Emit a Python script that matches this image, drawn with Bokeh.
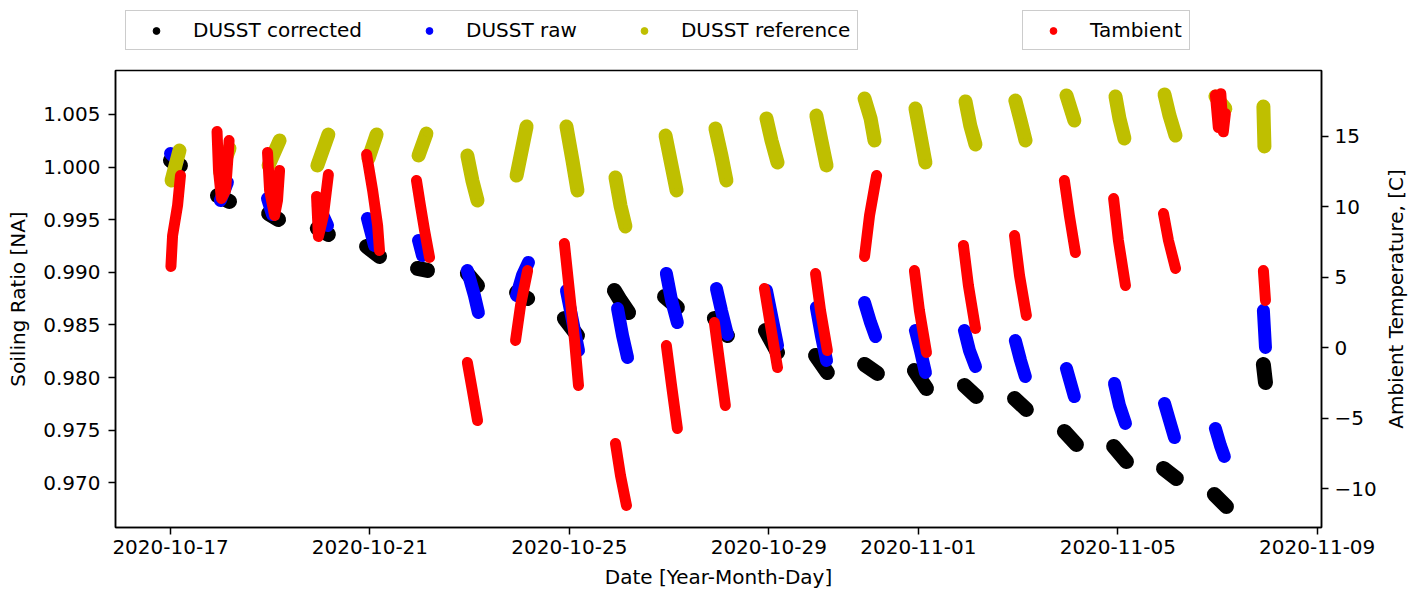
import datetime as dt
import math

from bokeh.plotting import figure
from bokeh.layouts import column, row
from bokeh.models import (Range1d, LinearAxis, FixedTicker, NumeralTickFormatter,
                          DatetimeTickFormatter, Legend, LegendItem, Label)
from bokeh.embed import file_html
from bokeh.resources import INLINE

# ---------------------------------------------------------------------------
# Daily measurement windows (each window: samples as (hour after midnight, value))
# ---------------------------------------------------------------------------
cluster_days = [
    "2020-10-17", "2020-10-18", "2020-10-19", "2020-10-20", "2020-10-21",
    "2020-10-22", "2020-10-23", "2020-10-24", "2020-10-25", "2020-10-26",
    "2020-10-27", "2020-10-28", "2020-10-29", "2020-10-30", "2020-10-31",
    "2020-11-01", "2020-11-02", "2020-11-03", "2020-11-04", "2020-11-05",
    "2020-11-06", "2020-11-07", "2020-11-08",
]

dusst_corrected = [
    [(0.0, 1.00063), (4.8, 1.00015)],
    [(-1.4, 0.99730), (4.4, 0.99673)],
    [(-0.8, 0.99559), (4.0, 0.99502)],
    [(-1.3, 0.99417), (4.0, 0.99360)],
    [(-1.6, 0.99246), (4.6, 0.99151)],
    [(-1.1, 0.99037), (3.7, 0.99018)],
    [(-1.1, 0.98989), (3.8, 0.98875)],
    [(-1.4, 0.98808), (3.9, 0.98751)],
    [(-2.4, 0.98561), (3.9, 0.98400)],
    [(-2.3, 0.98827), (0.6, 0.98732), (4.5, 0.98618)],
    [(-2.2, 0.98770), (4.0, 0.98666)],
    [(-2.2, 0.98561), (4.1, 0.98400)],
    [(-1.6, 0.98447), (4.2, 0.98238)],
    [(-1.5, 0.98210), (4.2, 0.98048)],
    [(-1.9, 0.98124), (4.3, 0.98039)],
    [(-1.9, 0.98067), (3.9, 0.97896)],
    [(-1.8, 0.97925), (3.9, 0.97820)],
    [(-1.7, 0.97801), (4.0, 0.97697)],
    [(-1.7, 0.97488), (4.1, 0.97364)],
    [(-2.0, 0.97345), (4.2, 0.97202)],
    [(-2.0, 0.97136), (4.2, 0.97041)],
    [(-1.5, 0.96889), (4.3, 0.96775)],
    [(-1.9, 0.98124), (-0.9, 0.97953)],
]

dusst_raw = [
    [(0.0, 1.00129), (3.4, 1.00063)],
    [(0.0, 0.99683), (3.4, 0.99854)],
    [(-1.3, 0.99702), (1.1, 0.99550)],
    [(-0.8, 0.99635), (3.6, 0.99445)],
    [(-1.2, 0.99512), (2.2, 0.99255)],
    [(-0.6, 0.99303), (1.3, 0.99160)],
    [(-1.1, 0.99018), (2.3, 0.98780), (4.2, 0.98618)],
    [(-1.4, 0.98780), (1.4, 0.98970), (4.3, 0.99094)],
    [(-1.4, 0.98827), (1.5, 0.98542), (4.4, 0.98257)],
    [(-0.8, 0.98656), (1.6, 0.98400), (4.0, 0.98191)],
    [(-1.3, 0.98989), (1.2, 0.98732), (4.0, 0.98523)],
    [(-1.2, 0.98846), (1.2, 0.98637), (4.1, 0.98409)],
    [(-1.1, 0.98827), (1.8, 0.98542), (4.2, 0.98305)],
    [(-1.1, 0.98666), (1.3, 0.98400), (3.8, 0.98162)],
    [(-1.9, 0.98713), (1.0, 0.98523), (3.4, 0.98390)],
    [(-1.4, 0.98447), (1.0, 0.98257), (3.4, 0.98048)],
    [(-1.8, 0.98447), (0.6, 0.98257), (3.5, 0.98105)],
    [(-1.3, 0.98352), (1.2, 0.98162), (3.5, 0.98010)],
    [(-0.7, 0.98086), (3.1, 0.97820)],
    [(-1.6, 0.97944), (0.8, 0.97735), (3.7, 0.97564)],
    [(-1.5, 0.97754), (0.9, 0.97592), (3.3, 0.97430)],
    [(-1.0, 0.97516), (1.4, 0.97354), (3.3, 0.97250)],
    [(-1.9, 0.98637), (-0.9, 0.98286)],
]

dusst_reference = [
    [(0.5, 0.99873), (4.3, 1.00158)],
    [(0.0, 0.99949), (4.4, 1.00177)],
    [(-0.8, 1.00015), (4.5, 1.00253)],
    [(-1.3, 1.00015), (4.0, 1.00310)],
    [(-0.7, 1.00082), (3.2, 1.00310)],
    [(-0.6, 1.00110), (3.2, 1.00319)],
    [(-1.1, 1.00110), (1.3, 0.99873), (3.8, 0.99683)],
    [(-1.4, 0.99920), (3.4, 1.00386)],
    [(-1.4, 1.00386), (1.5, 1.00063), (3.9, 0.99778)],
    [(-1.8, 0.99901), (0.6, 0.99635), (3.0, 0.99436)],
    [(-1.7, 1.00300), (1.2, 1.00015), (3.6, 0.99778)],
    [(-1.7, 1.00367), (1.2, 1.00110), (3.6, 0.99873)],
    [(-1.1, 1.00462), (1.3, 1.00253), (4.2, 1.00044)],
    [(-1.1, 1.00490), (1.3, 1.00253), (3.8, 1.00015)],
    [(-1.9, 1.00652), (1.0, 1.00462), (2.9, 1.00253)],
    [(-1.4, 1.00557), (1.0, 1.00300), (3.4, 1.00044)],
    [(-1.3, 1.00624), (1.0, 1.00395), (3.5, 1.00215)],
    [(-1.3, 1.00633), (1.2, 1.00443), (3.6, 1.00253)],
    [(-0.7, 1.00681), (3.1, 1.00443)],
    [(-1.1, 1.00671), (0.8, 1.00462), (3.2, 1.00272)],
    [(-1.5, 1.00690), (0.9, 1.00490), (3.8, 1.00300)],
    [(-1.0, 1.00671), (3.8, 1.00557)],
    [(-1.9, 1.00576), (-1.4, 1.00196)],
]

t_ambient = [
    [(0.2, 5.76), (1.0, 7.95), (3.4, 10.08), (4.8, 12.20)],
    [(-1.6, 15.32), (-0.9, 12.56), (0.5, 10.57), (2.5, 11.14), (3.9, 13.97), (4.2, 14.68)],
    [(-1.3, 13.83), (-0.3, 11.14), (2.1, 9.37), (3.5, 10.43), (4.5, 12.56)],
    [(-1.7, 10.72), (-0.8, 7.88), (1.6, 9.37), (4.0, 12.27)],
    [(-1.6, 13.69), (1.3, 11.14), (3.7, 8.66), (4.6, 6.89)],
    [(-1.6, 11.85), (0.3, 10.08), (2.3, 8.31), (4.7, 6.40)],
    [(-1.1, -1.04), (1.3, -3.02), (3.8, -5.15)],
    [(-1.9, 0.52), (0.5, 3.00), (3.9, 5.47)],
    [(-2.4, 7.39), (0.0, 4.06), (2.5, 0.52), (4.4, -2.67)],
    [(-1.8, -6.78), (0.6, -9.04), (3.5, -11.17)],
    [(-1.3, 0.16), (1.2, -2.67), (4.0, -5.72)],
    [(-2.2, 1.79), (0.2, -0.90), (3.1, -4.09)],
    [(-2.1, 4.20), (0.8, 1.58), (4.2, -1.40)],
    [(-1.5, 5.26), (0.9, 2.64), (4.2, -0.19)],
    [(-1.9, 6.47), (0.5, 9.37), (3.9, 12.20)],
    [(-1.9, 5.47), (0.5, 2.64), (3.9, -0.33)],
    [(-2.3, 7.25), (0.1, 4.41), (3.5, 1.37)],
    [(-1.7, 7.95), (0.7, 5.12), (4.0, 2.29)],
    [(-1.7, 11.85), (0.7, 9.37), (3.6, 6.75)],
    [(-2.0, 10.57), (0.3, 7.60), (3.7, 4.41)],
    [(-2.0, 9.51), (0.4, 7.60), (3.8, 5.62)],
    [(-1.0, 17.90), (0.4, 15.60), (1.6, 18.00), (2.8, 15.30), (3.8, 16.60)],
    [(-1.9, 5.47), (-0.9, 3.35)],
]

date_ticks = ["2020-10-17", "2020-10-21", "2020-10-25", "2020-10-29",
              "2020-11-01", "2020-11-05", "2020-11-09"]
ratio_ticks = [0.970, 0.975, 0.980, 0.985, 0.990, 0.995, 1.000, 1.005]
temp_ticks = [-10, -5, 0, 5, 10, 15]

FONT = "DejaVu Sans"
FS = "20px"
EPOCH = dt.datetime(1970, 1, 1)
W = 1424
LEGEND_H = 60
SIDE_W = 44
PLOT_H = 594 - LEGEND_H
BORDER_TOP, BORDER_BOTTOM = 10, 67


def to_ms(day, hour=0.0):
    t = dt.datetime.strptime(day, "%Y-%m-%d") + dt.timedelta(hours=hour)
    return (t - EPOCH).total_seconds() * 1000.0


def build(series):
    xs, ys = [], []
    for day, pts in zip(cluster_days, series):
        xs.append([to_ms(day, h) for h, _ in pts])
        ys.append([v for _, v in pts])
    return xs, ys


def blank_figure(width, height, **borders):
    f = figure(
        width=width, height=height,
        x_range=Range1d(0, 1), y_range=Range1d(0, 1),
        output_backend="svg", toolbar_location=None,
        x_axis_location=None, y_axis_location=None,
        min_border=0, outline_line_color=None,
        background_fill_color="white", border_fill_color="white",
        **borders,
    )
    f.xgrid.grid_line_color = None
    f.ygrid.grid_line_color = None
    return f


# ---------------------------------------------------------------- main plot
p = figure(
    width=W - SIDE_W, height=PLOT_H,
    x_axis_type="datetime",
    x_range=Range1d(to_ms("2020-10-15", 21.52), to_ms("2020-11-09", 2.07)),
    y_range=Range1d(0.96575, 1.00918),
    output_backend="svg", toolbar_location=None,
    min_border_left=115, min_border_right=103 - SIDE_W,
    min_border_top=BORDER_TOP, min_border_bottom=BORDER_BOTTOM,
    background_fill_color="white", border_fill_color="white",
)
p.extra_y_ranges = {"temp": Range1d(-12.73, 19.64)}

p.xgrid.grid_line_color = None
p.ygrid.grid_line_color = None
p.outline_line_color = "black"
p.outline_line_width = 1.5
p.outline_line_alpha = 1.0


def style_axis(ax):
    ax.axis_line_color = "black"
    ax.axis_line_width = 1.5
    ax.major_tick_line_color = "black"
    ax.major_tick_line_width = 1.5
    ax.major_tick_out = 7
    ax.major_tick_in = 0
    ax.minor_tick_line_color = None
    ax.major_label_text_font = FONT
    ax.major_label_text_font_size = FS
    ax.major_label_text_color = "black"
    ax.axis_label_text_font = FONT
    ax.axis_label_text_font_size = FS
    ax.axis_label_text_font_style = "normal"
    ax.axis_label_text_color = "black"


xa = p.xaxis[0]
style_axis(xa)
xa.ticker = FixedTicker(ticks=[to_ms(d) for d in date_ticks])
fmt = "%Y-%m-%d"
xa.formatter = DatetimeTickFormatter(milliseconds=fmt, seconds=fmt, minsec=fmt, minutes=fmt,
                                     hourmin=fmt, hours=fmt, days=fmt, months=fmt, years=fmt)
xa.axis_label = "Date [Year-Month-Day]"
xa.major_label_standoff = 5
xa.axis_label_standoff = 8

ya = p.yaxis[0]
style_axis(ya)
ya.ticker = FixedTicker(ticks=ratio_ticks)
ya.formatter = NumeralTickFormatter(format="0.000")
ya.axis_label = "Soiling Ratio [NA]"
ya.major_label_standoff = 8
ya.axis_label_standoff = 10

yr = LinearAxis(y_range_name="temp")
style_axis(yr)
yr.ticker = FixedTicker(ticks=temp_ticks)
yr.major_label_overrides = {t: (f"\u2212{abs(t)}" if t < 0 else str(t)) for t in temp_ticks}
yr.major_label_standoff = 6
p.add_layout(yr, "right")

# series: (data, colour, stroke width of the daily streak, marker size, label, axis)
series_specs = [
    (dusst_corrected, "black", 15, 9, "DUSST corrected", "default"),
    (dusst_raw, "#0000ff", 13, 5, "DUSST raw", "default"),
    (dusst_reference, "#bfbf00", 14, 6, "DUSST reference", "default"),
    (t_ambient, "#ff0000", 11, 6, "Tambient", "temp"),
]

for data, color, lw, ms, label, rng in series_specs:
    xs, ys = build(data)
    p.multi_line(xs, ys, line_color=color, line_width=lw, line_cap="round",
                 line_join="round", y_range_name=rng)
    fx = [x for r_ in xs for x in r_]
    fy = [y for r_ in ys for y in r_]
    p.scatter(fx, fy, size=ms, marker="circle", fill_color=color, line_color=color,
              y_range_name=rng)

# ------------------------------------------- right-hand axis title (reads upward)
side = blank_figure(SIDE_W, PLOT_H, min_border_top=BORDER_TOP, min_border_bottom=BORDER_BOTTOM)
side.add_layout(Label(x=0.36, y=0.5, text="Ambient Temperature, [C]", angle=math.pi / 2,
                      text_align="center", text_baseline="middle",
                      text_font=FONT, text_font_size=FS, text_color="black"))

# ------------------------------------------------------------- legend strip
lf = blank_figure(W, LEGEND_H, min_border_left=115)

key_renderers = {}
for data, color, lw, ms, label, rng in series_specs:
    # legend keys only; the point sits outside the strip's visible range
    key_renderers[label] = lf.scatter([-5], [-5], size=ms, marker="circle",
                                      fill_color=color, line_color=color)


def make_legend(labels, loc):
    leg = Legend(
        items=[LegendItem(label=l, renderers=[key_renderers[l]]) for l in labels],
        orientation="horizontal", location=loc,
        padding=7, spacing=44, margin=0,
        glyph_width=46, glyph_height=17, label_standoff=14,
        label_text_font=FONT, label_text_font_size=FS, label_text_color="black",
        border_line_color="#cccccc", border_line_width=1, border_line_alpha=1.0,
        background_fill_color="white", background_fill_alpha=0.8,
    )
    lf.add_layout(leg)
    return leg


make_legend(["DUSST corrected", "DUSST raw", "DUSST reference"], (10, 10))
make_legend(["Tambient"], (907, 10))

layout = column(lf, row(p, side, spacing=0), spacing=0)
open("out.html", "w").write(file_html(layout, INLINE))
